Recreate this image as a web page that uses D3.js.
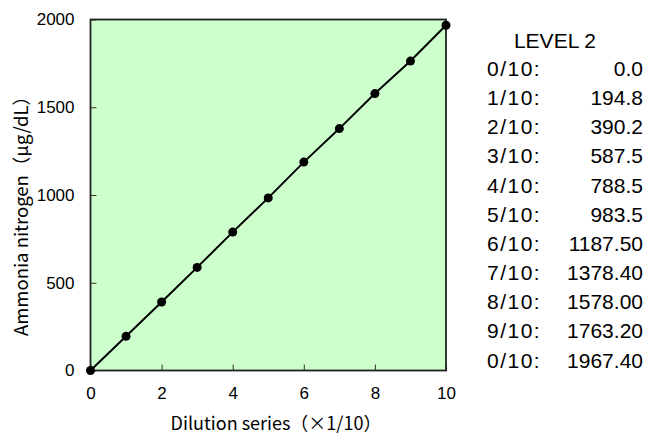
<!DOCTYPE html>
<html><head><meta charset="utf-8">
<script src="https://cdn.jsdelivr.net/npm/d3@7"></script>
<style>body{margin:0;background:#fff}svg{display:block}text{font-family:"Liberation Sans",Arial,sans-serif;fill:#000}</style>
</head><body><svg id="c" width="647" height="434"></svg>
<script>
const dilution = [0,1,2,3,4,5,6,7,8,9,10];
const ammonia = [0,194.8,390.2,587.5,788.5,983.5,1187.5,1378.4,1578.0,1763.2,1967.4];
const rowLabels = ["0/10:","1/10:","2/10:","3/10:","4/10:","5/10:","6/10:","7/10:","8/10:","9/10:","0/10:"];
const rowValues = ["0.0","194.8","390.2","587.5","788.5","983.5","1187.50","1378.40","1578.00","1763.20","1967.40"];
const xTicks = [0,2,4,6,8,10];
const yTicks = [0,500,1000,1500,2000];
const legendTitle = "LEVEL 2";
const xTitle = "Dilution series（×1/10）";
const yTitle = "Ammonia nitrogen（μg/dL）";

const svg = d3.select("#c");
const L=90.5, R=446, T=19.5, B=370.5;
const x = d3.scaleLinear().domain([0,10]).range([L,R]);
const y = d3.scaleLinear().domain([0,2000]).range([B,T]);

svg.append("rect").attr("x",L).attr("y",T).attr("width",R-L).attr("height",B-T)
  .attr("fill","#ccffcc");

const xa = svg.append("g").attr("transform",`translate(0,${B})`)
  .call(d3.axisBottom(x).tickValues(xTicks).tickSize(-6).tickPadding(16).tickFormat(d3.format("d")));
const ya = svg.append("g").attr("transform",`translate(${L},0)`)
  .call(d3.axisLeft(y).tickValues(yTicks).tickSize(-6).tickPadding(16).tickFormat(d3.format("d")));
[xa,ya].forEach(a=>{
  a.select(".domain").remove();
  a.selectAll("line").attr("stroke","#333").attr("stroke-width",1);
  a.selectAll("text").attr("font-size",17).attr("font-family","Liberation Sans, Arial, sans-serif");
});

svg.append("rect").attr("x",L).attr("y",T).attr("width",R-L).attr("height",B-T)
  .attr("fill","none").attr("stroke","#222").attr("stroke-width",1.8);

const pts = dilution.map((d,i)=>[d,ammonia[i]]);
svg.append("path").datum(pts)
  .attr("d",d3.line().x(d=>x(d[0])).y(d=>y(d[1])))
  .attr("fill","none").attr("stroke","#000").attr("stroke-width",2);
svg.selectAll("circle.p").data(pts).join("circle")
  .attr("cx",d=>x(d[0])).attr("cy",d=>y(d[1])).attr("r",4.5).attr("fill","#000");

svg.append("text").attr("x",276).attr("y",430).attr("text-anchor","middle")
  .style("font-family","'Noto Sans CJK JP','Noto Sans',sans-serif")
  .attr("font-size",18).text(xTitle);
svg.append("text").attr("transform","translate(28,211.5) rotate(-90)").attr("text-anchor","middle")
  .style("font-family","'Noto Sans CJK JP','Noto Sans',sans-serif")
  .attr("font-size",18.5).text(yTitle);

svg.append("text").attr("x",555).attr("y",47.5).attr("text-anchor","middle")
  .attr("font-size",21).text(legendTitle);
rowLabels.forEach((lab,i)=>{
  const yy = 76 + i*29.15;
  svg.append("text").attr("x",487).attr("y",yy).attr("font-size",21).attr("letter-spacing",1.5).text(lab);
  svg.append("text").attr("x",643).attr("y",yy).attr("text-anchor","end").attr("font-size",21).text(rowValues[i]);
});
</script></body></html>
